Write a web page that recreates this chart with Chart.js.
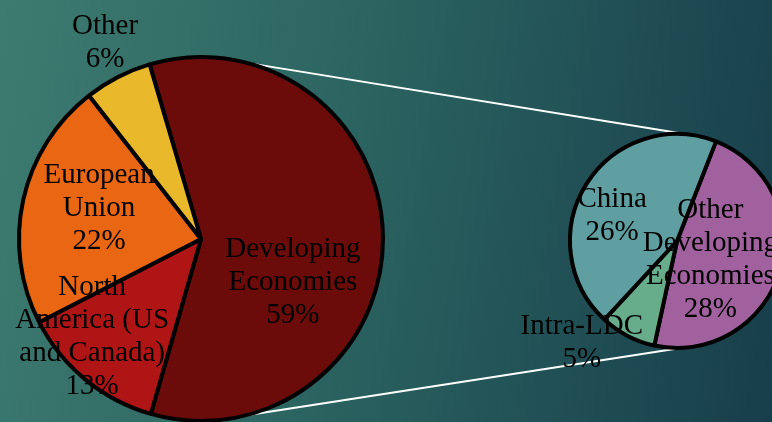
<!DOCTYPE html>
<html>
<head>
<meta charset="utf-8">
<script src="https://cdn.jsdelivr.net/npm/chart.js@4"></script>
<style>
  html, body { margin: 0; padding: 0; }
  body {
    width: 772px; height: 422px; overflow: hidden; position: relative;
    background: linear-gradient(100deg, #3d7b70 0%, #2b6360 45%, #173e4b 100%);
  }
  canvas { position: absolute; left: 0; top: 0; }
  #links { z-index: 0; }
  #mainPie { z-index: 1; }
  #subPie { z-index: 2; }
</style>
</head>
<body>
<canvas id="links" width="800" height="440"></canvas>
<canvas id="mainPie" width="800" height="440"></canvas>
<canvas id="subPie" width="800" height="440"></canvas>
<script>
// main pie
const mainLabels = [['Developing', 'Economies'], ['North', 'America (US', 'and Canada)'], ['European', 'Union'], ['Other']];
const mainValues = [59, 13, 22, 6];
const mainColors = ['#6b0c0b', '#b01516', '#e96613', '#e9b82b'];

// secondary pie (split of Developing Economies)
const subLabels = [['Other', 'Developing', 'Economies'], ['Intra-LDC'], ['China']];
const subValues = [28, 5, 26];
const subColors = ['#a1619f', '#67ac8b', '#5f9fa1'];

const FONT = '29px "Liberation Serif", "Times New Roman", serif';
const LINE_H = 33;

// label block centres, in units of the pie radius, from the pie centre
const labelPlugin = {
  id: 'sliceLabels',
  afterDatasetsDraw(chart, args, opts) {
    const ctx = chart.ctx;
    const meta = chart.getDatasetMeta(0);
    const data = chart.data.datasets[0].data;
    ctx.save();
    ctx.font = FONT;
    ctx.fillStyle = '#000';
    ctx.textAlign = 'center';
    ctx.textBaseline = 'alphabetic';
    meta.data.forEach((arc, i) => {
      const off = opts.offsets[i];
      const cx = arc.x + off[0] * arc.outerRadius;
      const cy = arc.y + off[1] * arc.outerRadius;
      const lines = chart.data.labels[i].concat([data[i] + '%']);
      lines.forEach((t, j) => {
        const y = cy + (j - (lines.length - 1) / 2) * LINE_H + 10;
        ctx.fillText(t, cx, y);
      });
    });
    ctx.restore();
  }
};

function pieConfig(labels, values, colors, rotation, padding, offsets) {
  return {
    type: 'pie',
    data: {
      labels: labels,
      datasets: [{
        data: values,
        backgroundColor: colors,
        borderColor: '#000',
        borderWidth: 4,
        hoverOffset: 0
      }]
    },
    options: {
      responsive: false,
      animation: false,
      rotation: rotation,
      layout: { padding: padding },
      events: [],
      plugins: {
        legend: { display: false },
        tooltip: { enabled: false },
        sliceLabels: { offsets: offsets }
      }
    },
    plugins: [labelPlugin]
  };
}

const mainChart = new Chart(document.getElementById('mainPie'), pieConfig(
  mainLabels, mainValues, mainColors, -16.4,
  { left: 17, top: 55, right: 415, bottom: 17 },
  [[0.505, 0.228], [-0.598, 0.522], [-0.56, -0.18], [-0.527, -1.092]]
));

const subChart = new Chart(document.getElementById('subPie'), pieConfig(
  subLabels, subValues, subColors, 21.4,
  { left: 568, top: 132, right: 14, bottom: 90 },
  [[0.312, 0.156], [-0.89, 0.927], [-0.606, -0.257]]
));

// connector lines between the two pies
(function drawLinks() {
  const a = mainChart.getDatasetMeta(0).data[0];
  const b = subChart.getDatasetMeta(0).data[0];
  const pt = (arc, deg) => {
    const r = deg * Math.PI / 180;
    return [arc.x + Math.sin(r) * arc.outerRadius, arc.y - Math.cos(r) * arc.outerRadius];
  };
  const ctx = document.getElementById('links').getContext('2d');
  ctx.strokeStyle = '#ffffff';
  ctx.lineWidth = 2;
  [[14.6, 6.7], [165.5, 178]].forEach(([da, db]) => {
    const p = pt(a, da), q = pt(b, db);
    ctx.beginPath();
    ctx.moveTo(p[0], p[1]);
    ctx.lineTo(q[0], q[1]);
    ctx.stroke();
  });
})();
</script>
</body>
</html>
